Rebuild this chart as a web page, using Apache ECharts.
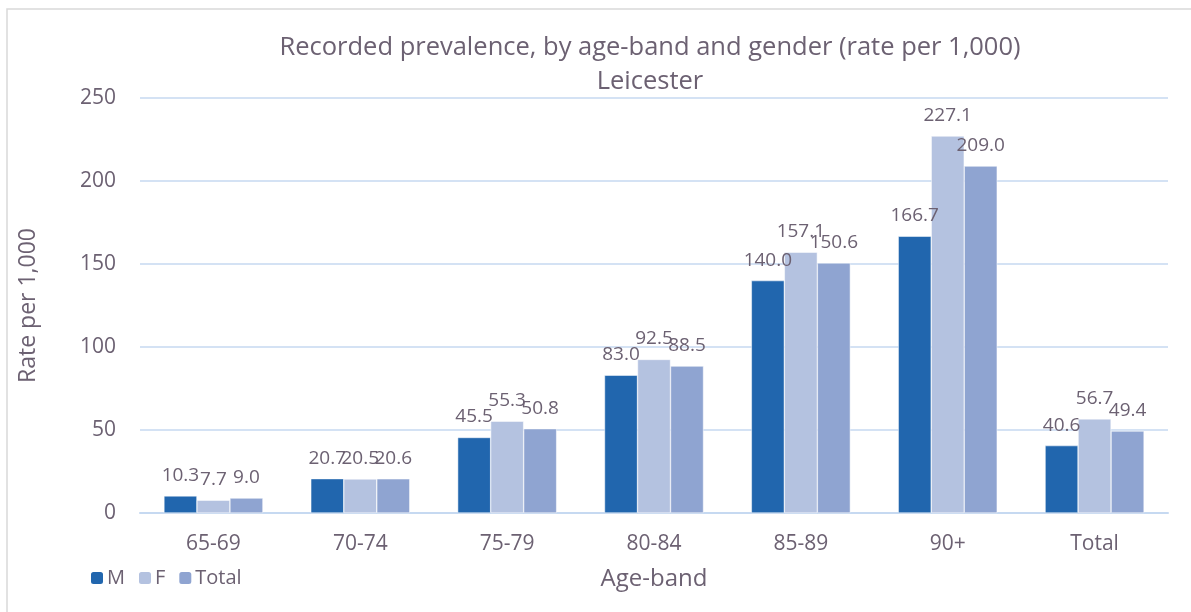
<!DOCTYPE html>
<html>
<head>
<meta charset="utf-8">
<script src="https://cdn.jsdelivr.net/npm/echarts@6/dist/echarts.min.js"></script>
<style>
html,body{margin:0;padding:0;background:#fff}
#chart{width:1191px;height:612px}
</style>
</head>
<body>
<div id="chart"></div>
<script>
var categories = ['65-69','70-74','75-79','80-84','85-89','90+','Total'];
var maleData = [10.3,20.7,45.5,83.0,140.0,166.7,40.6];
var femaleData = [7.7,20.5,55.3,92.5,157.1,227.1,56.7];
var totalData = [9.0,20.6,50.8,88.5,150.6,209.0,49.4];
var yTicks = [0,50,100,150,200,250];

var txt = '#6c6172';
var font = 'Open Sans';

function makeSeries(name, data, color){
  return {
    name: name,
    type: 'bar',
    data: data,
    barWidth: 33,
    barGap: '0%',
    itemStyle: {color: color, borderColor: '#ffffff', borderWidth: 0.5},
    label: {
      show: true,
      position: 'top',
      distance: 11,
      color: txt,
      fontFamily: font,
      fontSize: 19,
      formatter: function(p){ return p.value.toFixed(1); }
    }
  };
}

var myChart = echarts.init(document.getElementById('chart'));
var option = {
  backgroundColor: '#fff',
  animation: false,
  title: {
    text: 'Recorded prevalence, by age-band and gender (rate per 1,000)\nLeicester',
    left: 645,
    textAlign: 'center',
    top: 26,
    textStyle: {color: txt, fontFamily: font, fontSize: 25.5, fontWeight: 'normal', lineHeight: 34}
  },
  legend: {
    data: ['M','F','Total'],
    left: 84,
    top: 563,
    itemWidth: 14,
    itemHeight: 14,
    itemGap: 12,
    textStyle: {color: txt, fontFamily: font, fontSize: 20, padding: [0,0,0,-2]}
  },
  graphic: [{
    type: 'rect',
    shape: {x: 7, y: 9, width: 1200, height: 700},
    style: {fill: 'none', stroke: '#d9d9d9', lineWidth: 1.5},
    silent: true
  }],
  grid: {left: 140, right: 23, top: 98, bottom: 99},
  xAxis: {
    type: 'category',
    data: categories,
    name: 'Age-band',
    nameLocation: 'middle',
    nameGap: 54,
    nameTextStyle: {color: txt, fontFamily: font, fontSize: 24},
    axisLine: {lineStyle: {color: '#c6d9f1', width: 2}},
    axisTick: {show: false},
    axisLabel: {color: txt, fontFamily: font, fontSize: 21, margin: 21}
  },
  yAxis: {
    type: 'value',
    min: yTicks[0],
    max: yTicks[yTicks.length-1],
    interval: 50,
    name: 'Rate per 1,000',
    nameLocation: 'middle',
    nameGap: 100,
    nameRotate: 90,
    nameTextStyle: {color: txt, fontFamily: font, fontSize: 23},
    axisLine: {show: false},
    axisTick: {show: false},
    axisLabel: {color: txt, fontFamily: font, fontSize: 21, margin: 24},
    splitLine: {lineStyle: {color: '#c6d9f1', width: 1.5}}
  },
  series: [
    makeSeries('M', maleData, '#2166ae'),
    makeSeries('F', femaleData, '#b4c2e0'),
    makeSeries('Total', totalData, '#8fa4d1')
  ]
};
myChart.setOption(option);
</script>
</body>
</html>
